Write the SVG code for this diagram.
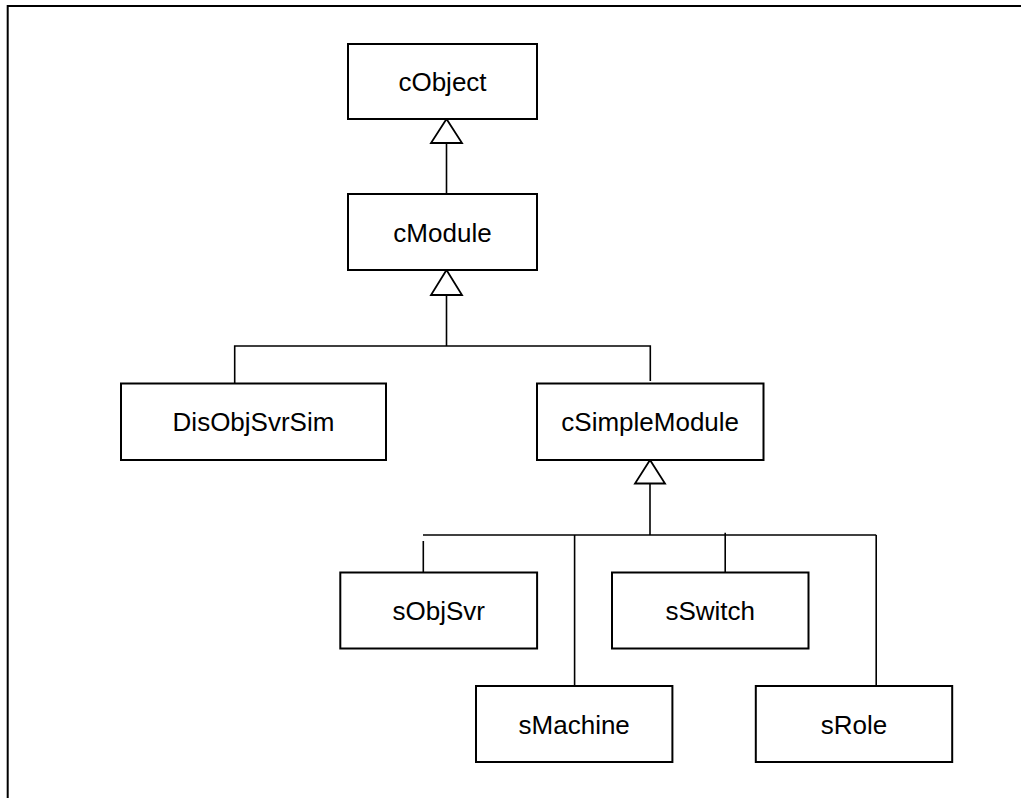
<svg xmlns="http://www.w3.org/2000/svg" width="1021" height="798" viewBox="0 0 1021 798">
<style>
.box{fill:#fff;stroke:#000;stroke-width:2}
.lbl{font-family:"Liberation Sans",Arial,sans-serif;font-size:26px;fill:#000;text-anchor:middle}
.ln{fill:none;stroke:#000;stroke-width:1.6}
.tri{fill:#fff;stroke:#000;stroke-width:1.8;stroke-linejoin:miter}
.frame{fill:none;stroke:#000;stroke-width:2}
</style>
<rect width="1021" height="798" fill="#fff"/>
<path class="frame" d="M7.7 798 V6 H1021"/>
<g id="connectors">
<line class="ln" x1="446.5" y1="143" x2="446.5" y2="194"/>
<polygon class="tri" points="446.5,119 431,143 462,143"/>
<line class="ln" x1="446.5" y1="295" x2="446.5" y2="346"/>
<polygon class="tri" points="446.5,270 431,295 462,295"/>
<polyline class="ln" points="234.7,385 234.7,346 650.3,346 650.3,381"/>
<line class="ln" x1="650" y1="483.5" x2="650" y2="535"/>
<polygon class="tri" points="650,460 635,483.5 665,483.5"/>
<line class="ln" x1="423" y1="535" x2="876.2" y2="535"/>
<line class="ln" x1="423.3" y1="541" x2="423.3" y2="572"/>
<line class="ln" x1="574.6" y1="535" x2="574.6" y2="686"/>
<line class="ln" x1="725.2" y1="532.7" x2="725.2" y2="572"/>
<line class="ln" x1="876.2" y1="535" x2="876.2" y2="686"/>
</g>
<g id="cObject"><rect class="box" x="348" y="44" width="189" height="75"/><text class="lbl" x="442.5" y="91">cObject</text></g>
<g id="cModule"><rect class="box" x="348" y="194" width="189" height="76"/><text class="lbl" x="442.5" y="241.5">cModule</text></g>
<g id="DisObjSvrSim"><rect class="box" x="121" y="383.5" width="265" height="76.5"/><text class="lbl" x="253.5" y="431">DisObjSvrSim</text></g>
<g id="cSimpleModule"><rect class="box" x="537" y="383.5" width="226.5" height="76.5"/><text class="lbl" x="650.2" y="431">cSimpleModule</text></g>
<g id="sObjSvr"><rect class="box" x="340.3" y="572.5" width="196.8" height="76"/><text class="lbl" x="438.7" y="620">sObjSvr</text></g>
<g id="sSwitch"><rect class="box" x="612" y="572.5" width="196.5" height="76"/><text class="lbl" x="710.2" y="620">sSwitch</text></g>
<g id="sMachine"><rect class="box" x="476" y="686" width="196.4" height="76"/><text class="lbl" x="574.2" y="733.5">sMachine</text></g>
<g id="sRole"><rect class="box" x="755.8" y="686" width="196.4" height="76"/><text class="lbl" x="854" y="733.5">sRole</text></g>
</svg>
